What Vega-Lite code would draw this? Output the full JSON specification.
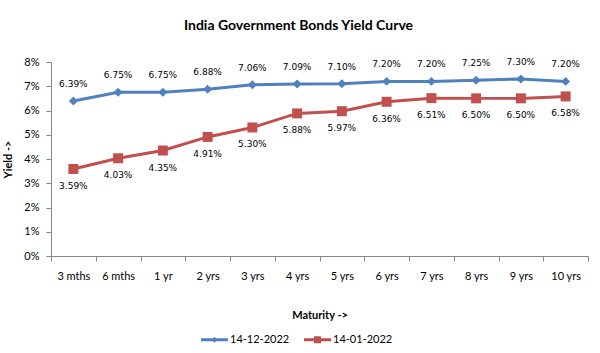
{
  "$schema": "https://vega.github.io/schema/vega-lite/v6.json",
  "width": 537,
  "height": 194,
  "autosize": {"type": "none"},
  "padding": {"left": 51, "top": 62, "right": 12, "bottom": 97},
  "background": "white",
  "title": {
    "text": "India Government Bonds Yield Curve",
    "font": "Lato",
    "fontSize": 14,
    "fontWeight": "bold",
    "color": "#000000",
    "anchor": "middle",
    "frame": "group",
    "dx": -21,
    "offset": 23
  },
  "data": {
    "values": [
      {"maturity": "3 mths", "series": "14-12-2022", "yield": 0.0639},
      {"maturity": "6 mths", "series": "14-12-2022", "yield": 0.0675},
      {"maturity": "1 yr", "series": "14-12-2022", "yield": 0.0675},
      {"maturity": "2 yrs", "series": "14-12-2022", "yield": 0.0688},
      {"maturity": "3 yrs", "series": "14-12-2022", "yield": 0.0706},
      {"maturity": "4 yrs", "series": "14-12-2022", "yield": 0.0709},
      {"maturity": "5 yrs", "series": "14-12-2022", "yield": 0.0710},
      {"maturity": "6 yrs", "series": "14-12-2022", "yield": 0.0720},
      {"maturity": "7 yrs", "series": "14-12-2022", "yield": 0.0720},
      {"maturity": "8 yrs", "series": "14-12-2022", "yield": 0.0725},
      {"maturity": "9 yrs", "series": "14-12-2022", "yield": 0.0730},
      {"maturity": "10 yrs", "series": "14-12-2022", "yield": 0.0720},
      {"maturity": "3 mths", "series": "14-01-2022", "yield": 0.0359},
      {"maturity": "6 mths", "series": "14-01-2022", "yield": 0.0403},
      {"maturity": "1 yr", "series": "14-01-2022", "yield": 0.0435},
      {"maturity": "2 yrs", "series": "14-01-2022", "yield": 0.0491},
      {"maturity": "3 yrs", "series": "14-01-2022", "yield": 0.0530},
      {"maturity": "4 yrs", "series": "14-01-2022", "yield": 0.0588},
      {"maturity": "5 yrs", "series": "14-01-2022", "yield": 0.0597},
      {"maturity": "6 yrs", "series": "14-01-2022", "yield": 0.0636},
      {"maturity": "7 yrs", "series": "14-01-2022", "yield": 0.0651},
      {"maturity": "8 yrs", "series": "14-01-2022", "yield": 0.0650},
      {"maturity": "9 yrs", "series": "14-01-2022", "yield": 0.0650},
      {"maturity": "10 yrs", "series": "14-01-2022", "yield": 0.0658}
    ]
  },
  "encoding": {
    "x": {
      "field": "maturity",
      "type": "nominal",
      "sort": ["3 mths", "6 mths", "1 yr", "2 yrs", "3 yrs", "4 yrs", "5 yrs", "6 yrs", "7 yrs", "8 yrs", "9 yrs", "10 yrs"],
      "scale": {"paddingInner": 0, "paddingOuter": 0},
      "axis": {
        "title": "Maturity ->",
        "labelAngle": 0,
        "tickBand": "extent",
        "tickSize": 5,
        "labelPadding": 9,
        "titlePadding": 28
      }
    },
    "y": {
      "field": "yield",
      "type": "quantitative",
      "scale": {"domain": [0, 0.08], "nice": false},
      "axis": {
        "title": "Yield ->",
        "format": ".0%",
        "values": [0, 0.01, 0.02, 0.03, 0.04, 0.05, 0.06, 0.07, 0.08],
        "tickSize": 5,
        "labelPadding": 7,
        "titlePadding": 10
      }
    }
  },
  "layer": [
    {
      "mark": {"type": "line", "strokeWidth": 3},
      "encoding": {
        "color": {
          "field": "series",
          "type": "nominal",
          "scale": {"domain": ["14-12-2022", "14-01-2022"], "range": ["#4F81BD", "#C0504D"]},
          "legend": {
            "title": null,
            "orient": "none",
            "direction": "horizontal",
            "legendX": 150,
            "legendY": 264,
            "padding": 0,
            "symbolSize": 729,
            "symbolStrokeWidth": 0,
            "labelOffset": 2,
            "columnPadding": 14,
            "labelFont": "Lato",
            "labelFontSize": 11,
            "labelColor": "#000000",
            "encode": {
              "symbols": {
                "update": {
                  "shape": {"signal": "datum.value == '14-12-2022' ? 'M-1,-0.11H1V0.11H-1Z M0,-0.22L0.22,0L0,0.22L-0.22,0Z' : 'M-1,-0.11H1V0.11H-1Z M-0.26,-0.26H0.26V0.26H-0.26Z'"},
                  "fill": {"signal": "datum.value == '14-12-2022' ? '#4F81BD' : '#C0504D'"},
                  "stroke": {"value": "transparent"},
                  "strokeWidth": {"value": 0},
                  "size": {"value": 729},
                  "opacity": {"value": 1}
                }
              }
            }
          }
        }
      }
    },
    {
      "transform": [{"filter": "datum.series == '14-12-2022'"}],
      "mark": {"type": "point", "shape": "diamond", "filled": true, "size": 80, "color": "#4F81BD", "opacity": 1}
    },
    {
      "transform": [{"filter": "datum.series == '14-01-2022'"}],
      "mark": {"type": "point", "shape": "square", "filled": true, "size": 100, "color": "#C0504D", "opacity": 1}
    },
    {
      "transform": [{"filter": "datum.series == '14-12-2022'"}],
      "mark": {"type": "text", "dy": -17, "font": "DejaVu Sans", "fontSize": 9, "color": "#000000"},
      "encoding": {"text": {"field": "yield", "type": "quantitative", "format": ".2%"}}
    },
    {
      "transform": [{"filter": "datum.series == '14-01-2022'"}],
      "mark": {"type": "text", "dy": 17, "font": "DejaVu Sans", "fontSize": 9, "color": "#000000"},
      "encoding": {"text": {"field": "yield", "type": "quantitative", "format": ".2%"}}
    }
  ],
  "config": {
    "view": {"stroke": null},
    "axis": {
      "grid": false,
      "domainColor": "#868686",
      "tickColor": "#868686",
      "labelFont": "Lato",
      "labelFontSize": 11,
      "labelColor": "#000000",
      "titleFont": "Lato",
      "titleFontSize": 11,
      "titleFontWeight": "bold",
      "titleColor": "#000000"
    }
  }
}
